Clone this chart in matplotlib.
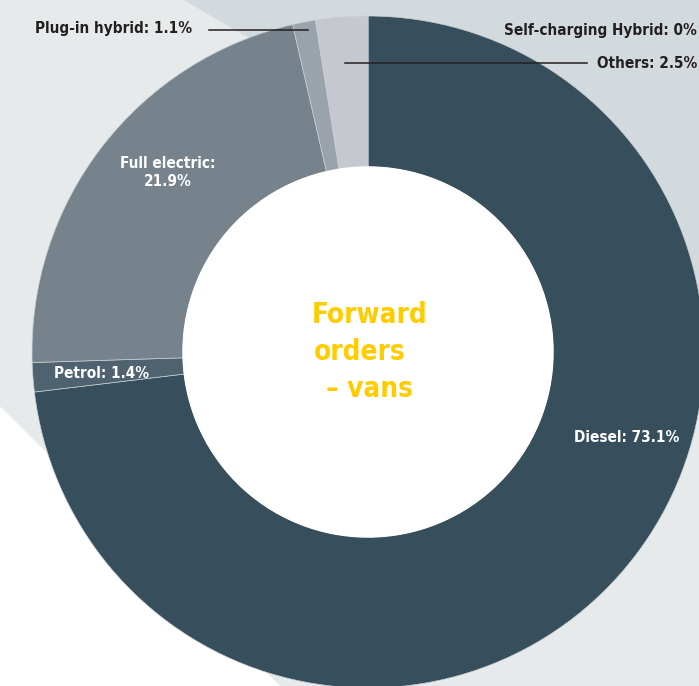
import matplotlib
matplotlib.use('Agg')
import matplotlib.pyplot as plt
from matplotlib.patches import Polygon, Circle

# Forward orders for vans, share by fuel type (%)
fuels = ['Diesel', 'Petrol', 'Full electric', 'Plug-in hybrid', 'Others', 'Self-charging Hybrid']
shares = [73.1, 1.4, 21.9, 1.1, 2.5, 0.0]
colours = ['#374f5c', '#4e6270', '#76838d', '#9aa3ab', '#c5c9cf', '#c5c9cf']

W, H = 699, 686
plt.rcParams['font.family'] = ['DejaVu Sans']
plt.rcParams['font.stretch'] = 'condensed'

fig = plt.figure(figsize=(W / 100, H / 100), dpi=100)
ax = fig.add_axes([0, 0, 1, 1])
ax.set_facecolor('#e6eaeb')

# page background shapes
ax.add_patch(Polygon([(185, 0), (W, 300), (W, 0)], closed=True, color='#d3dadd', zorder=0))
ax.add_patch(Polygon([(0, 407), (0, H), (279, H)], closed=True, color='white', zorder=0))

cx, cy, r_out, r_in = 368, 352, 336, 185

# y axis runs downward, so counterclock in data space turns clockwise on screen
wedges, _ = ax.pie(shares, colors=colours, startangle=270, counterclock=True,
                   center=(cx, cy), radius=r_out, frame=True,
                   wedgeprops=dict(width=r_out - r_in, edgecolor='#c9d0d4', linewidth=0.5))
for w in wedges:
    w.set_zorder(2)
ax.add_patch(Circle((cx, cy), r_in, color='white', zorder=3))

ax.set_xlim(0, W)
ax.set_ylim(H, 0)
ax.set_aspect('auto')
ax.axis('off')
fig.patch.set_facecolor('#e6eaeb')

lbl = dict(fontsize=11, fontweight='bold', fontstretch='condensed', zorder=5)
dark = '#231f20'

def pct(v):
    return f'{v:g}%'

# labels outside the ring with leader lines
ax.text(35, 29, f'{fuels[3]}: {pct(shares[3])}', color=dark, ha='left', va='center', **lbl)
ax.plot([209, 308], [30, 30], color=dark, lw=1.1, zorder=5)
ax.text(697, 30, f'{fuels[5]}: {pct(shares[5])}', color=dark, ha='right', va='center', **lbl)
ax.text(697, 63, f'{fuels[4]}: {pct(shares[4])}', color=dark, ha='right', va='center', **lbl)
ax.plot([345, 587], [63, 63], color=dark, lw=1.1, zorder=5)

# labels on the ring
ax.text(168, 172, f'{fuels[2]}:\n{pct(shares[2])}', color='white', ha='center', va='center',
        linespacing=1.25, **lbl)
ax.text(54, 373, f'{fuels[1]}: {pct(shares[1])}', color='white', ha='left', va='center', **lbl)
ax.text(574, 437, f'{fuels[0]}: {pct(shares[0])}', color='white', ha='left', va='center', **lbl)

# title in the hole
title = dict(fontsize=20, fontweight='bold', fontstretch='condensed', color='#ffcc00',
             ha='left', va='center', zorder=6)
ax.text(312, 315, 'Forward', **title)
ax.text(314, 352, 'orders', **title)
ax.text(326, 389, '– vans', **title)

fig.savefig('out.png', dpi=100, facecolor=fig.get_facecolor())
